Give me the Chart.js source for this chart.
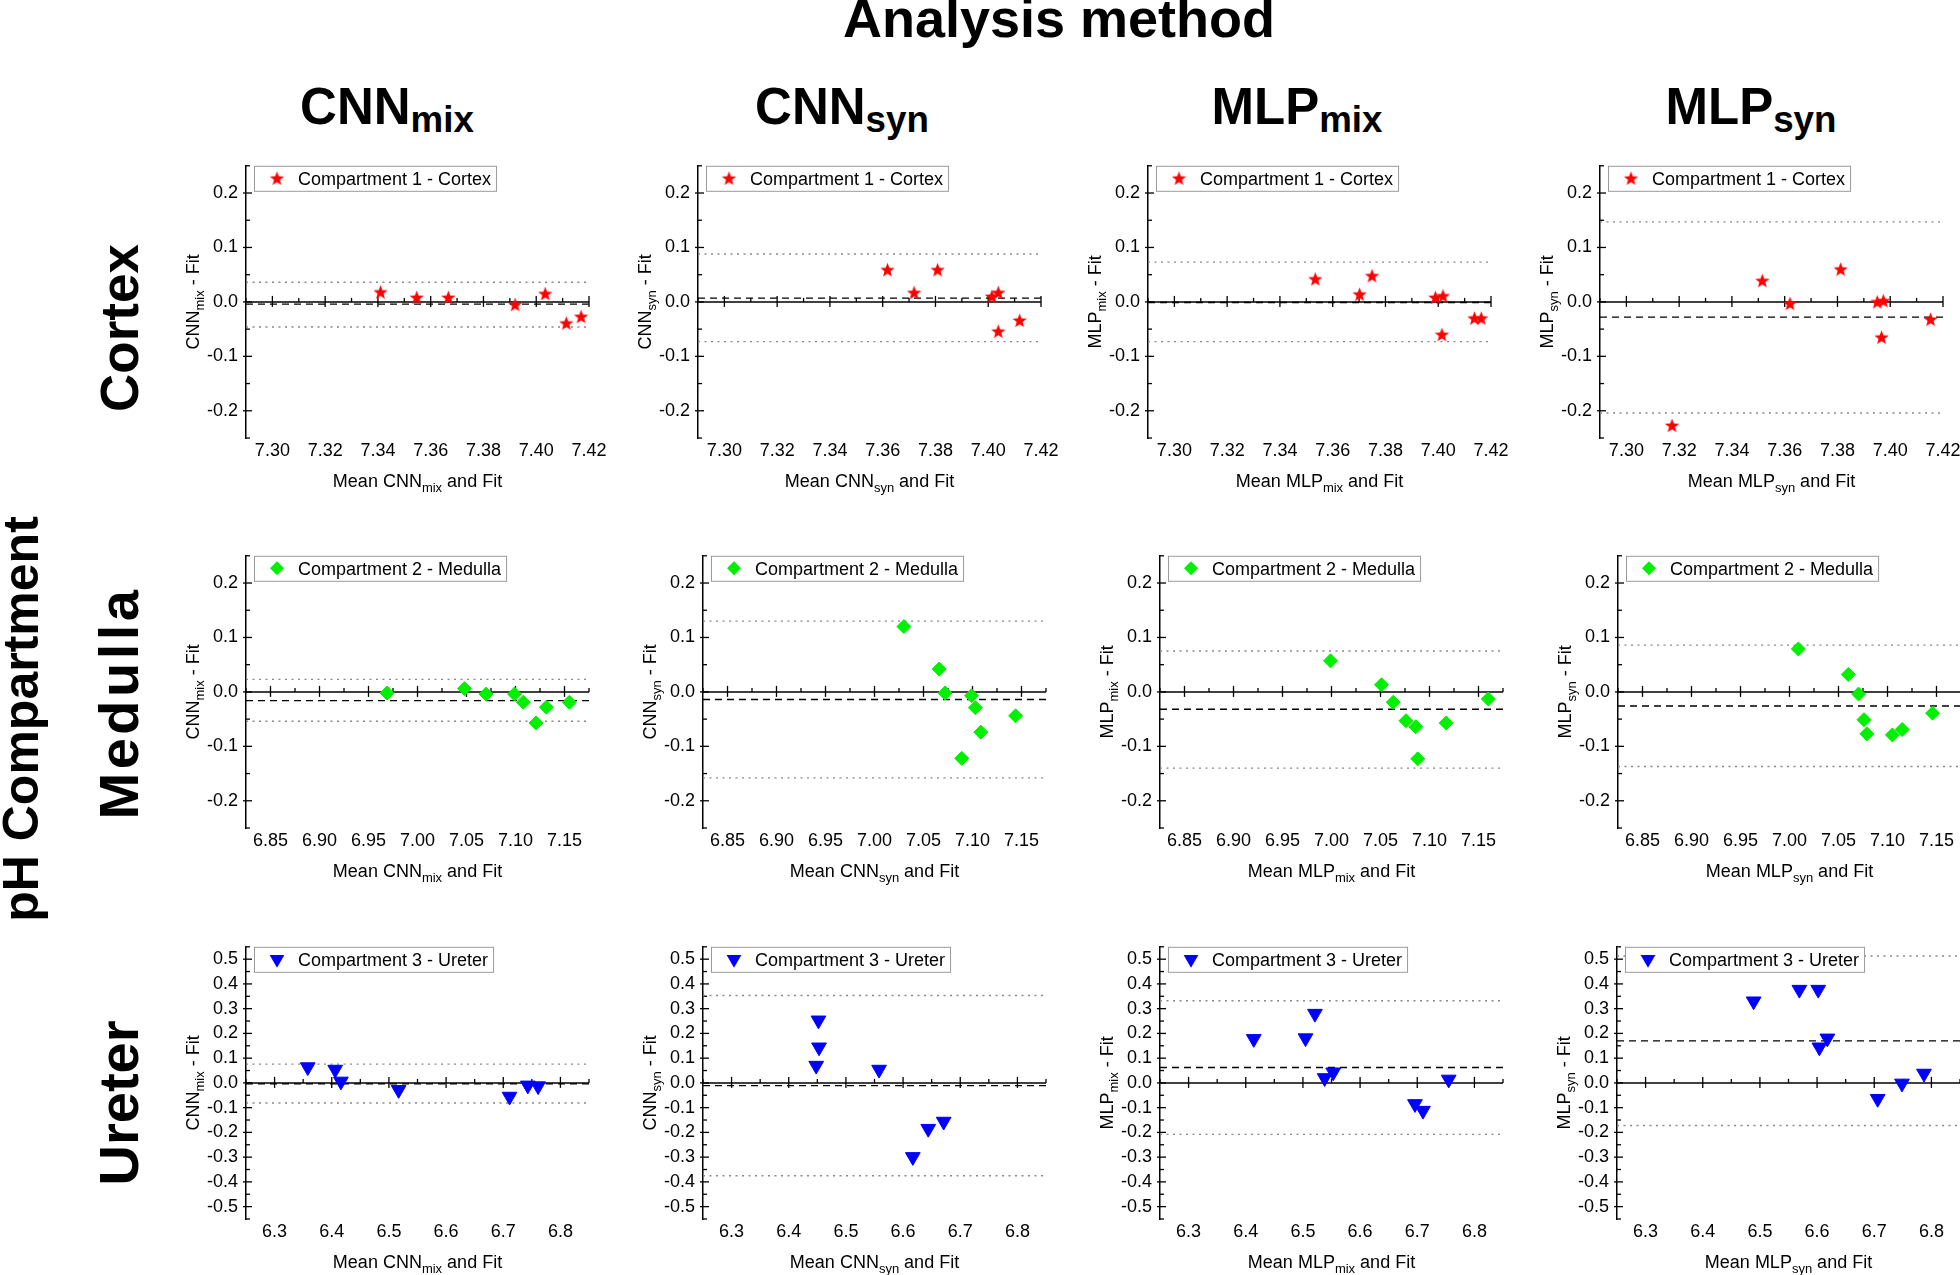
<!DOCTYPE html>
<html>
<head>
<meta charset="utf-8">
<title>Bland-Altman analysis</title>
<script src="https://cdn.jsdelivr.net/npm/chart.js@4.4.0/dist/chart.umd.min.js"></script>
<style>
  html, body { margin: 0; padding: 0; background: #fff; }
  body { width: 1960px; height: 1275px; position: relative; overflow: hidden; font-family: "Liberation Sans", Arial, sans-serif; }
  .lbl { position: absolute; font-weight: bold; color: #000; line-height: 1; white-space: nowrap; transform: translate(-50%, -50%); }
  .rot { transform: translate(-50%, -50%) rotate(-90deg); }
  .lbl .s { font-size: 0.72em; position: relative; top: 0.22em; }
  canvas { position: absolute; }
</style>
</head>
<body>
<div class="lbl" style="left:1059px; top:18px; font-size:54px">Analysis method</div>
<div class="lbl" style="left:387px; top:106px; font-size:51px">CNN<span class="s">mix</span></div>
<div class="lbl" style="left:842px; top:106px; font-size:51px">CNN<span class="s">syn</span></div>
<div class="lbl" style="left:1297px; top:106px; font-size:51px">MLP<span class="s">mix</span></div>
<div class="lbl" style="left:1751px; top:106px; font-size:51px">MLP<span class="s">syn</span></div>
<div class="lbl rot" style="left:21px; top:719px; font-size:50px">pH Compartment</div>
<div class="lbl rot" style="left:119px; top:328px; font-size:53px">Cortex</div>
<div class="lbl rot" style="left:119px; top:703px; font-size:56px; letter-spacing:3.5px">Medulla</div>
<div class="lbl rot" style="left:119px; top:1103px; font-size:56px">Ureter</div>

<script>
// tick labels
const cortexXTicks = [7.30, 7.32, 7.34, 7.36, 7.38, 7.40, 7.42];
const medullaXTicks = [6.85, 6.90, 6.95, 7.00, 7.05, 7.10, 7.15];
const ureterXTicks = [6.3, 6.4, 6.5, 6.6, 6.7, 6.8];
const narrowYTicks = [-0.2, -0.1, 0.0, 0.1, 0.2];
const ureterYTicks = [-0.5, -0.4, -0.3, -0.2, -0.1, 0.0, 0.1, 0.2, 0.3, 0.4, 0.5];

// Compartment 1 - Cortex  (mean of method and fit, difference method - fit)
const cortexCnnMixMean = [7.341, 7.3547, 7.3667, 7.392, 7.4034, 7.4114, 7.417];
const cortexCnnMixDiff = [0.018, 0.008, 0.008, -0.005, 0.015, -0.039, -0.027];
const cortexCnnSynMean = [7.3618, 7.3719, 7.3808, 7.4014, 7.4038, 7.4038, 7.4119];
const cortexCnnSynDiff = [0.059, 0.017, 0.059, 0.010, 0.017, -0.054, -0.034];
const cortexMlpMixMean = [7.3534, 7.3702, 7.3749, 7.3989, 7.4018, 7.4014, 7.4137, 7.4163];
const cortexMlpMixDiff = [0.042, 0.014, 0.048, 0.008, 0.011, -0.060, -0.030, -0.030];
const cortexMlpSynMean = [7.3173, 7.3515, 7.362, 7.3812, 7.3951, 7.3974, 7.3967, 7.4153];
const cortexMlpSynDiff = [-0.227, 0.039, -0.003, 0.060, 0.0, 0.002, -0.065, -0.032];
const cortexBias = [-0.004, 0.007, -0.001, -0.028];
const cortexUpper = [0.036, 0.088, 0.073, 0.147];
const cortexLower = [-0.046, -0.073, -0.073, -0.204];

// Compartment 2 - Medulla
const medullaCnnMixMean = [6.969, 7.048, 7.070, 7.099, 7.108, 7.121, 7.1315, 7.155];
const medullaCnnMixDiff = [-0.002, 0.006, -0.004, -0.004, -0.019, -0.057, -0.028, -0.019];
const medullaCnnSynMean = [7.030, 7.066, 7.072, 7.089, 7.099, 7.103, 7.1085, 7.144];
const medullaCnnSynDiff = [0.120, 0.042, -0.002, -0.122, -0.007, -0.029, -0.074, -0.044];
const medullaMlpMixMean = [6.999, 7.051, 7.063, 7.076, 7.086, 7.088, 7.117, 7.160];
const medullaMlpMixDiff = [0.057, 0.013, -0.019, -0.053, -0.064, -0.123, -0.057, -0.013];
const medullaMlpSynMean = [7.009, 7.060, 7.0705, 7.076, 7.079, 7.105, 7.115, 7.146];
const medullaMlpSynDiff = [0.079, 0.032, -0.004, -0.051, -0.077, -0.079, -0.069, -0.039];
const medullaBias = [-0.016, -0.014, -0.032, -0.026];
const medullaUpper = [0.023, 0.130, 0.075, 0.086];
const medullaLower = [-0.054, -0.158, -0.140, -0.137];

// Compartment 3 - Ureter
const ureterCnnMixMean = [6.358, 6.406, 6.416, 6.517, 6.711, 6.743, 6.761];
const ureterCnnMixDiff = [0.064, 0.054, 0.006, -0.028, -0.055, -0.010, -0.013];
const ureterCnnSynMean = [6.452, 6.453, 6.448, 6.558, 6.617, 6.644, 6.671];
const ureterCnnSynDiff = [0.253, 0.144, 0.070, 0.054, -0.299, -0.185, -0.156];
const ureterMlpMixMean = [6.414, 6.5045, 6.521, 6.538, 6.553, 6.696, 6.710, 6.755];
const ureterMlpMixDiff = [0.178, 0.181, 0.280, 0.020, 0.043, -0.085, -0.112, 0.014];
const ureterMlpSynMean = [6.489, 6.569, 6.602, 6.604, 6.618, 6.706, 6.7485, 6.787];
const ureterMlpSynDiff = [0.330, 0.377, 0.377, 0.144, 0.180, -0.064, -0.002, 0.038];
const ureterBias = [-0.004, -0.011, 0.062, 0.170];
const ureterUpper = [0.076, 0.353, 0.332, 0.513];
const ureterLower = [-0.081, -0.375, -0.208, -0.172];

const methods = [
  {name: 'CNN', sub: 'mix'}, {name: 'CNN', sub: 'syn'},
  {name: 'MLP', sub: 'mix'}, {name: 'MLP', sub: 'syn'}
];

const FONT = '"Liberation Sans", Arial, sans-serif';
const CW = 470, CH = 400, PAD_TOP = 14, PLOT_W = 343, PLOT_H = 277, Y_AXIS_W = 100;

function starImage(color, r) {
  const c = document.createElement('canvas');
  const s = Math.ceil(r * 2 + 2);
  c.width = s; c.height = s;
  const g = c.getContext('2d');
  g.fillStyle = color;
  g.beginPath();
  for (let i = 0; i < 10; i++) {
    const rr = i % 2 === 0 ? r : r * 0.42;
    const a = -Math.PI / 2 + i * Math.PI / 5;
    g.lineTo(s / 2 + rr * Math.cos(a), s / 2 + 0.6 + rr * Math.sin(a));
  }
  g.closePath();
  g.fill();
  return c;
}

const redStar = starImage('#ff0000', 7.5);

const rows = [
  {
    legend: 'Compartment 1 - Cortex', color: '#ff0000', pointStyle: redStar, radius: 7.5, rotation: 0,
    xMin: 7.29, xMax: 7.42, xTicks: cortexXTicks, xDec: 2,
    yMin: -0.25, yMax: 0.25, yTicks: narrowYTicks,
    means: [cortexCnnMixMean, cortexCnnSynMean, cortexMlpMixMean, cortexMlpSynMean],
    diffs: [cortexCnnMixDiff, cortexCnnSynDiff, cortexMlpMixDiff, cortexMlpSynDiff],
    bias: cortexBias, upper: cortexUpper, lower: cortexLower,
    top: 161, axisX: [246, 698, 1148, 1600]
  },
  {
    legend: 'Compartment 2 - Medulla', color: '#00f000', pointStyle: 'rectRot', radius: 7, rotation: 0,
    xMin: 6.825, xMax: 7.175, xTicks: medullaXTicks, xDec: 2,
    yMin: -0.25, yMax: 0.25, yTicks: narrowYTicks,
    means: [medullaCnnMixMean, medullaCnnSynMean, medullaMlpMixMean, medullaMlpSynMean],
    diffs: [medullaCnnMixDiff, medullaCnnSynDiff, medullaMlpMixDiff, medullaMlpSynDiff],
    bias: medullaBias, upper: medullaUpper, lower: medullaLower,
    top: 551, axisX: [246, 703, 1160, 1618]
  },
  {
    legend: 'Compartment 3 - Ureter', color: '#0000ff', pointStyle: 'triangle', radius: 8.5, rotation: 180,
    xMin: 6.25, xMax: 6.85, xTicks: ureterXTicks, xDec: 1,
    yMin: -0.55, yMax: 0.55, yTicks: ureterYTicks,
    means: [ureterCnnMixMean, ureterCnnSynMean, ureterMlpMixMean, ureterMlpSynMean],
    diffs: [ureterCnnMixDiff, ureterCnnSynDiff, ureterMlpMixDiff, ureterMlpSynDiff],
    bias: ureterBias, upper: ureterUpper, lower: ureterLower,
    top: 942, axisX: [246, 703, 1160, 1617]
  }
];

function minorValues(ticks, lo, hi) {
  const step = ticks[1] - ticks[0];
  const out = [];
  for (let v = ticks[0] - step / 2; v <= hi + 1e-9; v += step) {
    if (v >= lo - 1e-9) out.push(v);
  }
  return out;
}

function drawMarker(ctx, row, x, y) {
  ctx.save();
  ctx.fillStyle = row.color;
  if (row.pointStyle === redStar) {
    ctx.drawImage(redStar, x - redStar.width / 2, y - redStar.height / 2);
  } else if (row.pointStyle === 'rectRot') {
    const r = row.radius;
    ctx.beginPath();
    ctx.moveTo(x, y - r); ctx.lineTo(x + r, y); ctx.lineTo(x, y + r); ctx.lineTo(x - r, y);
    ctx.closePath(); ctx.fill();
  } else {
    const r = row.radius;
    ctx.beginPath();
    ctx.moveTo(x, y + r);
    ctx.lineTo(x + r * 0.866, y - r / 2);
    ctx.lineTo(x - r * 0.866, y - r / 2);
    ctx.closePath(); ctx.fill();
  }
  ctx.restore();
}

// text with a subscript, centred on (cx, cy)
function drawRich(ctx, parts, cx, cy) {
  let total = 0;
  parts.forEach(p => {
    ctx.font = (p.sub ? '13px ' : '18px ') + FONT;
    p.w = ctx.measureText(p.t).width;
    total += p.w;
  });
  let x = cx - total / 2;
  ctx.textAlign = 'left';
  ctx.textBaseline = 'alphabetic';
  ctx.fillStyle = '#000';
  parts.forEach(p => {
    ctx.font = (p.sub ? '13px ' : '18px ') + FONT;
    ctx.fillText(p.t, x, cy + 6.5 + (p.sub ? 5 : 0));
    x += p.w;
  });
}

const blandAltmanDecor = {
  id: 'blandAltmanDecor',
  beforeDatasetsDraw(chart) {
    const cfg = chart.options.plugins.blandAltmanDecor;
    const {ctx, chartArea} = chart;
    const xs = chart.scales.x, ys = chart.scales.y;
    const y0 = ys.getPixelForValue(0);
    ctx.save();
    ctx.strokeStyle = '#000';
    ctx.lineWidth = 1.5;
    // zero line
    ctx.beginPath();
    ctx.moveTo(xs.getPixelForValue(cfg.xMin), y0);
    ctx.lineTo(xs.getPixelForValue(cfg.xMax), y0);
    ctx.stroke();
    ctx.lineWidth = 1.3;
    cfg.xTicks.forEach(v => {
      const px = xs.getPixelForValue(v);
      ctx.beginPath(); ctx.moveTo(px, y0 - 6); ctx.lineTo(px, y0 + 5); ctx.stroke();
    });
    minorValues(cfg.xTicks, cfg.xMin, cfg.xMax).forEach(v => {
      const px = xs.getPixelForValue(v);
      ctx.beginPath(); ctx.moveTo(px, y0 - 4); ctx.lineTo(px, y0); ctx.stroke();
    });
    // y axis ticks
    const ax = chartArea.left;
    cfg.yTicks.forEach(v => {
      const py = ys.getPixelForValue(v);
      ctx.beginPath(); ctx.moveTo(ax - 3, py); ctx.lineTo(ax + 6, py); ctx.stroke();
    });
    minorValues(cfg.yTicks, cfg.yMin, cfg.yMax).forEach(v => {
      const py = ys.getPixelForValue(v);
      ctx.beginPath(); ctx.moveTo(ax, py); ctx.lineTo(ax + 4, py); ctx.stroke();
    });
    ctx.restore();
  },
  afterDraw(chart) {
    const cfg = chart.options.plugins.blandAltmanDecor;
    const {ctx, chartArea} = chart;
    // axis titles
    drawRich(ctx, [{t: 'Mean ' + cfg.method.name}, {t: cfg.method.sub, sub: true}, {t: ' and Fit'}],
      (chartArea.left + chartArea.right) / 2, chartArea.bottom + 42);
    ctx.save();
    ctx.translate(chartArea.left - 54, (chartArea.top + chartArea.bottom) / 2);
    ctx.rotate(-Math.PI / 2);
    drawRich(ctx, [{t: cfg.method.name}, {t: cfg.method.sub, sub: true}, {t: ' - Fit'}], 0, 0);
    ctx.restore();
    // legend box
    ctx.save();
    ctx.font = '18px ' + FONT;
    const tw = ctx.measureText(cfg.row.legend).width;
    const bx = chartArea.left + 8, by = chartArea.top, bh = 25, bw = 44 + tw + 5;
    ctx.fillStyle = '#fff';
    ctx.fillRect(bx, by, bw, bh);
    ctx.strokeStyle = '#9a9a9a';
    ctx.lineWidth = 1;
    ctx.strokeRect(bx + 0.5, by + 0.5, bw, bh);
    drawMarker(ctx, cfg.row, bx + 23, by + bh / 2);
    ctx.fillStyle = '#000';
    ctx.textAlign = 'left';
    ctx.textBaseline = 'alphabetic';
    ctx.fillText(cfg.row.legend, bx + 44, by + bh / 2 + 6.5);
    ctx.restore();
  }
};

function hLine(row, value, dash, color) {
  return {
    type: 'line',
    data: [{x: row.xMin, y: value}, {x: row.xMax, y: value}],
    borderColor: color,
    borderWidth: 1.4,
    borderDash: dash,
    pointRadius: 0,
    fill: false
  };
}

rows.forEach(row => {
  methods.forEach((method, m) => {
    const canvas = document.createElement('canvas');
    canvas.width = CW;
    canvas.height = CH;
    canvas.style.left = (row.axisX[m] - Y_AXIS_W) + 'px';
    canvas.style.top = (row.top - PAD_TOP) + 'px';
    document.body.appendChild(canvas);

    const pts = row.means[m].map((x, i) => ({x: x, y: row.diffs[m][i]}));

    new Chart(canvas, {
      type: 'scatter',
      data: {
        datasets: [
          {
            label: row.legend,
            data: pts,
            pointStyle: row.pointStyle,
            pointRadius: row.radius,
            pointRotation: row.rotation,
            backgroundColor: row.color,
            borderColor: row.color,
            borderWidth: 1
          },
          hLine(row, row.bias[m], [7, 5], '#000'),
          hLine(row, row.upper[m], [2, 4.5], '#888'),
          hLine(row, row.lower[m], [2, 4.5], '#888')
        ]
      },
      plugins: [blandAltmanDecor],
      options: {
        responsive: false,
        animation: false,
        devicePixelRatio: 1,
        layout: {padding: {left: 0, top: PAD_TOP, right: CW - Y_AXIS_W - PLOT_W, bottom: 0}},
        plugins: {
          legend: {display: false},
          tooltip: {enabled: false},
          blandAltmanDecor: {
            row: row, method: method,
            xMin: row.xMin, xMax: row.xMax, xTicks: row.xTicks,
            yMin: row.yMin, yMax: row.yMax, yTicks: row.yTicks
          }
        },
        scales: {
          x: {
            type: 'linear',
            min: row.xMin,
            max: row.xMax,
            border: {display: false},
            grid: {display: false, drawTicks: false},
            afterBuildTicks: s => { s.ticks = row.xTicks.map(v => ({value: v})); },
            afterFit: s => { s.height = CH - PAD_TOP - PLOT_H; },
            ticks: {
              padding: 2,
              color: '#000',
              autoSkip: false,
              maxRotation: 0,
              font: {family: FONT, size: 18},
              callback: v => Number(v).toFixed(row.xDec)
            }
          },
          y: {
            type: 'linear',
            min: row.yMin,
            max: row.yMax,
            border: {display: true, color: '#000', width: 1.5},
            grid: {display: false, drawTicks: false},
            afterBuildTicks: s => { s.ticks = row.yTicks.map(v => ({value: v})); },
            afterFit: s => { s.width = Y_AXIS_W; },
            ticks: {
              padding: 8,
              color: '#000',
              font: {family: FONT, size: 18},
              callback: v => Number(v).toFixed(1)
            }
          }
        }
      }
    });
  });
});
</script>
</body>
</html>
